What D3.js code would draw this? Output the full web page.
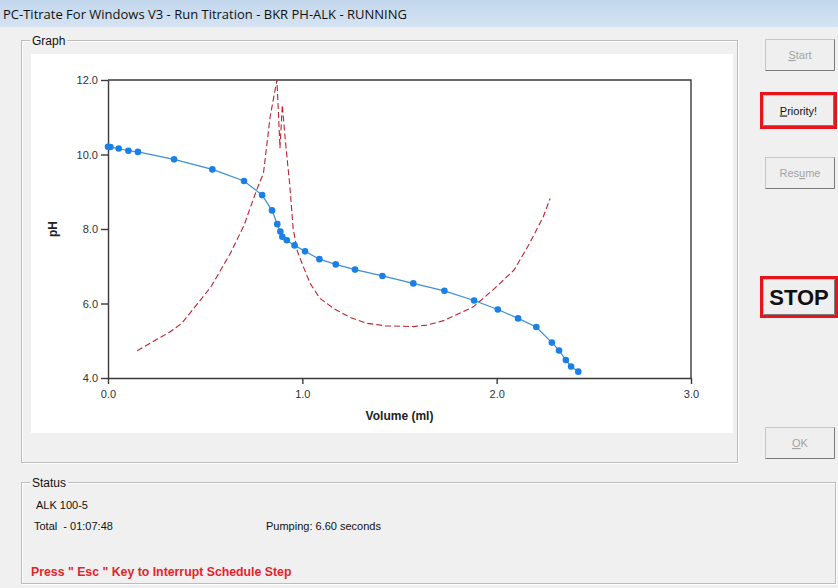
<!DOCTYPE html>
<meta charset="utf-8">
<style>
body{ margin:0; background:#f0f0f0; }
svg text{ font-family:"Liberation Sans", Arial, sans-serif; }
.axis path, .axis line{ stroke:#3a3a3a; stroke-width:1.4; }
.axis text{ font-size:11px; fill:#333; }
</style>
<body>
<script src="https://d3js.org/d3.v7.min.js"></script>
<script>
// titration points (volume ml / pH)
var volume = [0, 0.012, 0.055, 0.105, 0.154, 0.34, 0.537, 0.70, 0.793, 0.844, 0.871, 0.887, 0.897, 0.92, 0.96,
              1.014, 1.088, 1.172, 1.271, 1.412, 1.571, 1.731, 1.884, 2.006, 2.11, 2.204, 2.284, 2.321, 2.356, 2.383, 2.42];
var ph = [10.21, 10.20, 10.16, 10.10, 10.07, 9.87, 9.60, 9.29, 8.91, 8.50, 8.13, 7.93, 7.79, 7.70, 7.56,
          7.40, 7.19, 7.05, 6.91, 6.74, 6.54, 6.34, 6.08, 5.84, 5.60, 5.37, 4.95, 4.74, 4.48, 4.31, 4.17];

// derivative curve (red dashed), plotted on the pH scale
var derivVolume = [0.15, 0.32, 0.38, 0.53, 0.63, 0.70, 0.765, 0.80, 0.834, 0.869, 0.878, 0.885, 0.897, 0.912, 0.935,
                   0.953, 0.975, 1.005, 1.04, 1.09, 1.16, 1.245, 1.33, 1.43, 1.57, 1.64, 1.726, 1.81, 1.88, 1.98,
                   2.09, 2.17, 2.24, 2.275];
var derivValue = [4.73, 5.24, 5.47, 6.45, 7.35, 8.1, 9.05, 9.5, 11.0, 12.0, 11.0, 10.17, 11.33, 10.4, 9.2,
                  8.0, 7.4, 6.99, 6.54, 6.14, 5.87, 5.63, 5.47, 5.40, 5.38, 5.42, 5.54, 5.74, 5.91, 6.36,
                  6.90, 7.62, 8.33, 8.82];

var xTicks = [0, 1, 2, 3];
var yTicks = [4, 6, 8, 10, 12];

var W = 838, H = 588;
var svg = d3.select("body").append("svg").attr("width", W).attr("height", H);

svg.append("rect").attr("width", W).attr("height", H).attr("fill", "#f0f0f0");

// title bar
var grad = svg.append("defs").append("linearGradient").attr("id", "tb").attr("x1", 0).attr("y1", 0).attr("x2", 0).attr("y2", 1);
grad.append("stop").attr("offset", "0%").attr("stop-color", "#c2d6ec");
grad.append("stop").attr("offset", "100%").attr("stop-color", "#d6e4f3");
svg.append("rect").attr("width", W).attr("height", 27).attr("fill", "url(#tb)");
svg.append("text").attr("x", 3).attr("y", 19)
  .style("font-family", "'Open Sans', 'Noto Sans', sans-serif").style("font-size", "13px").attr("fill", "#111")
  .text("PC-Titrate For Windows V3 - Run Titration - BKR PH-ALK - RUNNING");

// group boxes
function groupBox(x, y, w, h, label){
  svg.append("rect").attr("x", x + 1.5).attr("y", y + 1.5).attr("width", w).attr("height", h)
    .attr("fill", "none").attr("stroke", "#fff");
  svg.append("rect").attr("x", x + 0.5).attr("y", y + 0.5).attr("width", w).attr("height", h)
    .attr("fill", "none").attr("stroke", "#bcbcbc");
  var t = svg.append("text").attr("x", x + 11).attr("y", y + 5).style("font-size", "12px").attr("fill", "#111").text(label);
  var bb = t.node().getBBox();
  svg.insert("rect", "text:last-of-type").attr("x", bb.x - 2).attr("y", y - 2).attr("width", bb.width + 4).attr("height", 6)
    .attr("fill", "#f0f0f0");
  t.raise();
}
groupBox(21, 40, 716, 422, "Graph");
groupBox(21, 482, 814, 101, "Status");

// chart
svg.append("rect").attr("x", 31).attr("y", 54).attr("width", 702).attr("height", 379).attr("fill", "#fff");

var margin = {left: 108, top: 80, right: 691, bottom: 378};
var x = d3.scaleLinear().domain([0, 3]).range([margin.left, margin.right]);
var y = d3.scaleLinear().domain([4, 12]).range([margin.bottom, margin.top]);

var g = svg.append("g");

g.append("g").attr("class", "axis").attr("transform", "translate(0," + margin.bottom + ")")
  .call(d3.axisBottom(x).tickValues(xTicks).tickFormat(d3.format(".1f")).tickSize(6).tickSizeOuter(0).tickPadding(6));
g.append("g").attr("class", "axis").attr("transform", "translate(" + margin.left + ",0)")
  .call(d3.axisLeft(y).tickValues(yTicks).tickFormat(d3.format(".1f")).tickSize(7).tickSizeOuter(0).tickPadding(3));

// top and right frame
g.append("path")
  .attr("d", "M" + x(0) + "," + y(12) + "H" + x(3) + "V" + y(4))
  .attr("fill", "none").attr("stroke", "#3a3a3a").attr("stroke-width", 1.4);

g.append("text").attr("x", (x(0) + x(3)) / 2).attr("y", 420).attr("text-anchor", "middle")
  .style("font-size", "12px").style("font-weight", "bold").attr("fill", "#222").text("Volume (ml)");
g.append("text").attr("transform", "translate(57," + y(8) + ") rotate(-90)").attr("text-anchor", "middle")
  .style("font-size", "12px").style("font-weight", "bold").attr("fill", "#222").text("pH");

var deriv = derivVolume.map(function(v, i){ return [v, derivValue[i]]; });
var pts = volume.map(function(v, i){ return [v, ph[i]]; });

var line = d3.line().x(function(d){ return x(d[0]); }).y(function(d){ return y(d[1]); });

g.append("path").datum(deriv).attr("d", line)
  .attr("fill", "none").attr("stroke", "#be2330").attr("stroke-width", 1.1).attr("stroke-dasharray", "6,3");

g.append("path").datum(pts).attr("d", line)
  .attr("fill", "none").attr("stroke", "#3c8fd6").attr("stroke-width", 1.2);

g.selectAll(".dot").data(pts).enter().append("circle").attr("class", "dot")
  .attr("cx", function(d){ return x(d[0]); })
  .attr("cy", function(d){ return y(d[1]); })
  .attr("r", 3.3).attr("fill", "#1a7fe6");

// buttons
function button(x0, y0, w, h, parts, opts){
  opts = opts || {};
  if (opts.red) {
    svg.append("rect").attr("x", x0 - 3).attr("y", y0 - 3).attr("width", w + 6).attr("height", h + 6).attr("fill", "#e8141c");
  }
  svg.append("rect").attr("x", x0 + 0.5).attr("y", y0 + 0.5).attr("width", w - 1).attr("height", h - 1)
    .attr("fill", "#efefef").attr("stroke", "#c6c6c6");
  svg.append("path").attr("d", "M" + (x0 + 0.5) + "," + (y0 + h - 0.5) + "H" + (x0 + w - 0.5) + "V" + (y0 + 0.5))
    .attr("fill", "none").attr("stroke", "#7a7a7a");
  var t = svg.append("text").attr("x", x0 + w / 2).attr("y", y0 + h / 2 + (opts.big ? 8 : 4)).attr("text-anchor", "middle")
    .style("font-size", opts.big ? "22px" : "11px").style("font-weight", opts.big ? "bold" : "normal")
    .attr("fill", opts.disabled ? "#a3a3a3" : "#111");
  parts.forEach(function(p, i){
    var s = t.append("tspan").text(p);
    if (i == 1 && parts.length > 1) s.style("text-decoration", "underline");
  });
}
button(765, 39, 70, 32, ["", "S", "tart"], {disabled: true});
button(763, 95, 71, 31, ["", "P", "riority!"], {red: true});
button(765, 157, 70, 32, ["Res", "u", "me"], {disabled: true});
button(763, 279, 72, 36, ["STOP"], {red: true, big: true});
button(765, 427, 70, 32, ["", "O", "K"], {disabled: true});

// status texts
function label(tx, ty, s, color, bold){
  svg.append("text").attr("x", tx).attr("y", ty).style("font-size", bold ? "12.3px" : "11px")
    .style("font-weight", bold ? "bold" : "normal").attr("fill", color).attr("xml:space", "preserve").text(s);
}
label(36, 509, "ALK 100-5", "#111");
label(34, 530, "Total  - 01:07:48", "#111");
label(266, 530, "Pumping: 6.60 seconds", "#111");
label(31, 576, "Press \" Esc \" Key to Interrupt Schedule Step", "#e3242b", true);
</script>
</body>
